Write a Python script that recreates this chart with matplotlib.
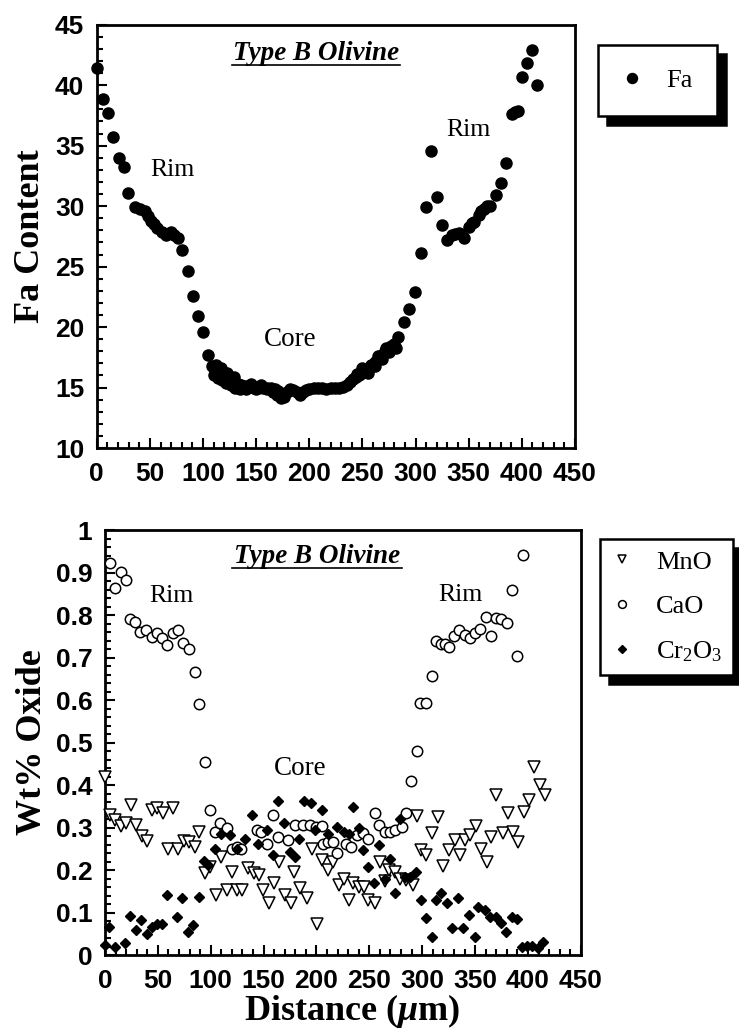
import numpy as np
import matplotlib
matplotlib.use('Agg')
import matplotlib.pyplot as plt
from matplotlib.ticker import MultipleLocator

plt.rcParams['mathtext.fontset'] = 'custom'
plt.rcParams['mathtext.rm'] = 'Liberation Serif'
plt.rcParams['mathtext.it'] = 'Liberation Serif:italic:bold'

# Fa profile across the grain (distance in um, Fa content)
fa_dist = [0, 6, 10.6, 15.3, 20.7, 25.7, 29.8, 35.7, 40.4, 45, 48, 51, 54, 57, 61, 65.5, 70, 73, 76,
           80.5, 85.8, 90.5, 95.5, 100, 105,
           108, 110, 112, 114, 116, 118, 120, 122, 124, 127, 130, 133, 136, 140, 144, 148, 152, 156,
           160, 164, 168, 171, 174, 176, 179, 182, 185, 188, 191, 194, 197, 200, 204, 208, 212, 216,
           220, 224, 228, 232, 235, 238, 241, 244, 247, 250, 253, 256, 259, 262, 265, 268, 271, 274,
           277, 280,
           110, 114, 118, 122, 126, 130, 135, 140, 150, 160, 166, 170, 173, 255, 262, 268, 275, 282,
           112, 117, 123, 129, 145, 155, 245, 250, 258, 265, 272,
           283, 289, 294, 299, 305, 310, 314.8, 319.8, 325, 330, 334.6, 337.5, 340.9, 346, 350, 353,
           355, 359.7, 362, 364.4, 367, 370, 375.5, 380.8, 385, 391, 393.5, 396, 400.6, 404.7, 409.4,
           414.5]
fa_value = [41.4, 38.9, 37.7, 35.7, 34.0, 33.2, 31.1, 29.9, 29.8, 29.6, 29.2, 28.8, 28.5, 28.2, 27.9,
            27.6, 27.9, 27.6, 27.4, 26.4, 24.6, 22.6, 20.9, 19.6, 17.7,
            16.8, 16.6, 16.5, 16.3, 16.2, 16.0, 15.9, 15.8, 15.7, 15.6, 15.4, 15.3, 15.2, 15.1, 15.05,
            15.0, 15.0, 15.0, 15.0, 15.0, 14.9, 14.7, 14.4, 14.2, 14.6, 14.9, 14.8, 14.6, 14.4, 14.6,
            14.8, 14.9, 14.95, 15.0, 15.0, 14.9, 14.95, 15.0, 15.0, 15.05, 15.2, 15.5, 15.7, 15.9,
            16.0, 16.2, 16.4, 16.6, 16.8, 17.1, 17.4, 17.7, 18.0, 18.2, 18.4, 18.6,
            16.0, 15.8, 15.6, 15.4, 15.2, 15.0, 14.9, 14.85, 14.9, 14.85, 14.6, 14.4, 14.1, 16.2,
            16.8, 17.4, 17.9, 18.3,
            16.9, 16.6, 16.2, 15.9, 15.3, 15.25, 16.1, 16.6, 16.9, 17.6, 18.3,
            19.2, 20.4, 21.5, 22.9, 26.1, 29.9, 34.6, 30.75, 28.4, 27.2, 27.6, 27.7, 27.8, 27.35,
            28.3, 28.6, 28.7, 29.3, 29.6, 29.8, 30.0, 30.0, 30.9, 31.95, 33.6, 37.6, 37.8, 37.9,
            40.7, 41.8, 42.9, 40.0]

# CaO wt%
cao_dist = [4.7, 9.4, 14.8, 19.9, 23.6, 28.4, 33.1, 38.4, 44.1, 48.8, 53.6, 58.3, 64, 69.2, 74, 79.7,
            85, 88.8, 94.5, 99.2, 104, 108.7, 115, 119.8, 124.5, 129, 143.4, 148, 152.9, 159, 164,
            173.5, 179.8, 187.6, 194, 200, 205, 206.5, 211, 216, 219, 228, 233, 238, 244.3, 249,
            255.3, 259.4, 264.8, 269.5, 274.2, 280.5, 284.6, 289.3, 294.6, 297.5, 303.5, 309,
            313.5, 318, 321.4, 325.5, 330, 335, 340, 345, 349.7, 354.4, 360, 365.5, 369.6, 374.3,
            379.7, 385.3, 389.7, 395.4]
cao_value = [0.923, 0.864, 0.902, 0.882, 0.790, 0.784, 0.761, 0.765, 0.749, 0.757, 0.745, 0.729,
             0.757, 0.765, 0.735, 0.719, 0.667, 0.590, 0.455, 0.341, 0.290, 0.310, 0.300, 0.250,
             0.255, 0.250, 0.294, 0.290, 0.262, 0.329, 0.277, 0.271, 0.306, 0.306, 0.306, 0.302,
             0.304, 0.262, 0.265, 0.267, 0.239, 0.262, 0.255, 0.282, 0.287, 0.274, 0.333, 0.306,
             0.290, 0.290, 0.294, 0.302, 0.333, 0.409, 0.481, 0.593, 0.593, 0.657, 0.739, 0.732,
             0.733, 0.725, 0.750, 0.765, 0.753, 0.745, 0.758, 0.766, 0.796, 0.750, 0.794, 0.790,
             0.782, 0.859, 0.703, 0.941]

# MnO wt%
mno_dist = [0, 4.7, 9.4, 14.8, 19.9, 24.2, 29.3, 34.6, 39.4, 44.1, 49.5, 54.5, 60, 64, 69.2, 74.5,
            79.7, 85, 89, 94.5, 99.2, 105, 110, 115, 120.5, 125, 130, 135.5, 140.8, 146, 149.9,
            154.7, 160, 165, 170.4, 175.7, 179.2, 184.5, 191, 195.5, 200.9, 205, 211, 216, 221,
            225.6, 230.4, 235, 240, 245.2, 249, 255.3, 260, 264.8, 269, 274.2, 279, 284.6, 290.9,
            294.6, 299.3, 304, 308.8, 315, 319.8, 325.5, 330.8, 335.5, 340, 345, 350.7, 356,
            361.3, 365.5, 370.2, 376.5, 381.2, 385.9, 390.7, 396, 401, 405.5, 411.2, 415.9]
mno_value = [0.418, 0.329, 0.318, 0.304, 0.310, 0.353, 0.306, 0.279, 0.268, 0.341, 0.345, 0.333,
             0.250, 0.347, 0.250, 0.268, 0.265, 0.255, 0.290, 0.192, 0.208, 0.141, 0.231, 0.153,
             0.196, 0.153, 0.153, 0.204, 0.192, 0.188, 0.153, 0.122, 0.169, 0.220, 0.141, 0.122,
             0.196, 0.157, 0.133, 0.250, 0.074, 0.224, 0.200, 0.220, 0.165, 0.180, 0.129, 0.169,
             0.161, 0.161, 0.129, 0.122, 0.220, 0.173, 0.200, 0.196, 0.180, 0.176, 0.165, 0.327,
             0.247, 0.235, 0.286, 0.325, 0.209, 0.247, 0.271, 0.235, 0.271, 0.282, 0.304, 0.249,
             0.220, 0.278, 0.376, 0.286, 0.335, 0.290, 0.267, 0.337, 0.365, 0.443, 0.400, 0.376]

# Cr2O3 wt%
cr_dist = [0, 3.8, 9.4, 18.8, 23.6, 29.3, 33.7, 39.4, 44.1, 48.8, 53.6, 58.3, 67.8, 72.5, 78.8,
           83.5, 88.8, 93.6, 97.6, 104, 110, 118, 124.5, 132.4, 138.7, 145, 153, 159, 164, 169,
           175, 179.8, 183.6, 188.6, 194.6, 198.7, 205, 211, 219, 225.6, 230.4, 235, 240, 244.3,
           249, 254, 259.4, 264.8, 269.5, 274.2, 279, 283.6, 288.3, 294, 298.5, 303.5, 308.8, 313,
           318, 323.5, 328.6, 334, 338.7, 344.3, 349.7, 352.9, 359.2, 364, 369.6, 374.3, 379,
           385.3, 389.7, 394.8, 399, 404, 409.6, 414.3]
cr_value = [0.024, 0.065, 0.018, 0.028, 0.091, 0.058, 0.083, 0.049, 0.065, 0.074, 0.072, 0.141,
            0.090, 0.133, 0.054, 0.070, 0.137, 0.222, 0.212, 0.250, 0.285, 0.282, 0.250, 0.273,
            0.329, 0.262, 0.294, 0.235, 0.362, 0.310, 0.242, 0.231, 0.273, 0.362, 0.357, 0.294,
            0.341, 0.285, 0.302, 0.290, 0.285, 0.348, 0.298, 0.247, 0.208, 0.169, 0.259, 0.180,
            0.227, 0.145, 0.321, 0.184, 0.184, 0.196, 0.129, 0.086, 0.043, 0.129, 0.145, 0.122,
            0.063, 0.133, 0.063, 0.094, 0.043, 0.112, 0.107, 0.090, 0.090, 0.075, 0.054, 0.090,
            0.084, 0.018, 0.021, 0.021, 0.016, 0.031]

serif = 'Liberation Serif'


def style_axes(ax, ymajor, yminor):
    ax.set_xlim(0, 450)
    ax.xaxis.set_major_locator(MultipleLocator(50))
    ax.xaxis.set_minor_locator(MultipleLocator(10))
    ax.yaxis.set_major_locator(MultipleLocator(ymajor))
    ax.yaxis.set_minor_locator(MultipleLocator(yminor))
    ax.tick_params(which='both', direction='in', top=False, right=False, width=1.5)
    ax.tick_params(which='major', length=7)
    ax.tick_params(axis='x', which='major', pad=10)
    ax.tick_params(axis='y', which='major', pad=9)
    ax.tick_params(which='minor', length=4)
    for sp in ax.spines.values():
        sp.set_linewidth(2)


def title_box(ax, xc, y, x0, x1, yline):
    ax.text(xc, y, 'Type B Olivine', transform=ax.transAxes, ha='center', va='baseline',
            family=serif, weight='bold', style='italic', fontsize=19.5)
    ax.plot([x0, x1], [yline, yline], color='k', lw=1.2, transform=ax.transAxes, clip_on=False)


def make_legend(ax, anchor, pad, spacing, scale):
    leg = ax.legend(loc='upper left', bbox_to_anchor=anchor, borderaxespad=0,
                    prop={'family': serif, 'size': 19}, fancybox=False, frameon=True,
                    handlelength=0.8, handletextpad=0.9, borderpad=pad, labelspacing=spacing,
                    markerscale=scale,
                    shadow={'ox': 6.5, 'oy': -6.5, 'color': 'k', 'alpha': 1})
    leg.get_frame().set_edgecolor('k')
    leg.get_frame().set_linewidth(1.8)
    leg.get_frame().set_alpha(1)
    return leg


fig = plt.figure(figsize=(7.39, 10.30), dpi=100)

# top panel: Fa content
ax1 = fig.add_axes([0.131, 0.565, 0.647, 0.411])
ax1.plot(fa_dist, fa_value, 'o', color='k', ms=8, clip_on=False, label='Fa', zorder=3)
ax1.set_ylim(10, 45)
style_axes(ax1, 5, 1)
ax1.set_ylabel('Fa Content', family=serif, weight='bold', fontsize=26)
ax1.yaxis.set_label_coords(-0.104, 0.5)
title_box(ax1, 0.458, 0.917, 0.282, 0.634, 0.906)
ax1.text(71, 33.0, 'Rim', ha='center', va='center', family=serif, fontsize=18.5)
ax1.text(349.5, 36.3, 'Rim', ha='center', va='center', family=serif, fontsize=18.5)
ax1.text(182, 19.0, 'Core', ha='center', va='center', family=serif, fontsize=19.5)
make_legend(ax1, (1.048, 0.953), 0.9, 0.5, 0.9)

# bottom panel: minor elements
ax2 = fig.add_axes([0.142, 0.0728, 0.644, 0.4126])
ax2.plot(mno_dist, mno_value, 'v', mfc='white', mec='k', mew=1.1, ms=8, clip_on=False,
         label='MnO', zorder=3)
ax2.plot(cao_dist, cao_value, 'o', mfc='white', mec='k', mew=1.1, ms=7.5, clip_on=False,
         label='CaO', zorder=3)
ax2.plot(cr_dist, cr_value, 'D', color='k', ms=5.5, clip_on=False,
         label='Cr$_2$O$_3$', zorder=4)
ax2.set_ylim(0, 1)
style_axes(ax2, 0.1, 0.02)
ax2.yaxis.set_major_formatter(plt.FuncFormatter(lambda v, p: '%g' % round(v, 2)))
ax2.set_ylabel('Wt% Oxide', family=serif, weight='bold', fontsize=26)
ax2.yaxis.set_label_coords(-0.118, 0.5)
ax2.set_xlabel(r'Distance ($\mu$m)', family=serif, weight='bold', fontsize=26)
ax2.xaxis.set_label_coords(0.519, -0.088)
title_box(ax2, 0.445, 0.922, 0.267, 0.624, 0.911)
ax2.text(63, 0.845, 'Rim', ha='center', va='center', family=serif, fontsize=18.5)
ax2.text(336.5, 0.847, 'Rim', ha='center', va='center', family=serif, fontsize=18.5)
ax2.text(185, 0.44, 'Core', ha='center', va='center', family=serif, fontsize=19.5)
make_legend(ax2, (1.04, 0.979), 0.42, 0.8, 0.75)

for ax in (ax1, ax2):
    for lab in ax.get_xticklabels() + ax.get_yticklabels():
        lab.set_fontfamily('Liberation Sans')
        lab.set_fontweight('bold')
        lab.set_fontsize(19)

fig.savefig('out.png', dpi=100)
